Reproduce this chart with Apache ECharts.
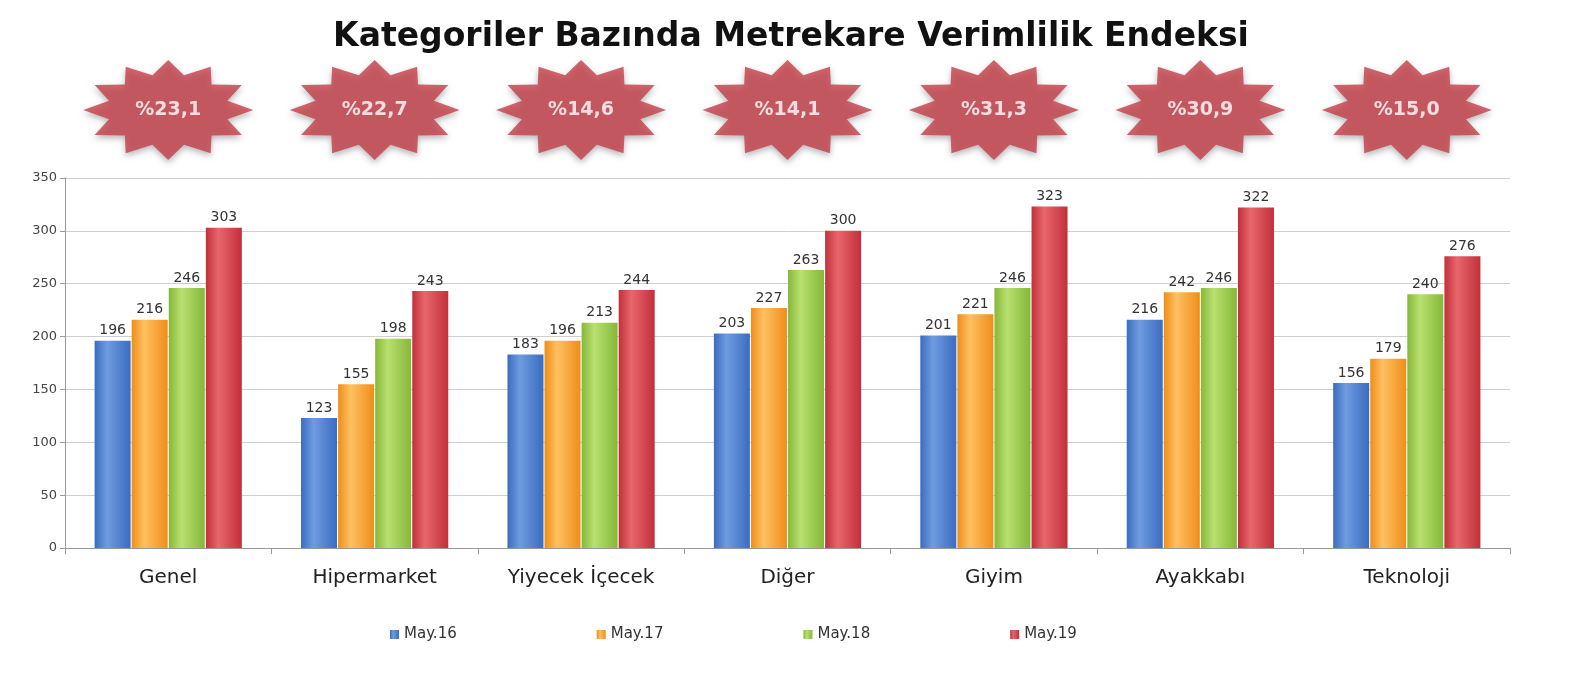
<!DOCTYPE html>
<html><head><meta charset="utf-8">
<script src="https://cdn.jsdelivr.net/npm/echarts@6/dist/echarts.min.js"></script>
<style>html,body{margin:0;background:#fff}#c{width:1582px;height:675px}</style>
</head><body><div id="c"></div>
<script>
var categories = ['Genel', 'Hipermarket', 'Yiyecek İçecek', 'Diğer', 'Giyim', 'Ayakkabı', 'Teknoloji'];
var may16 = [196, 123, 183, 203, 201, 216, 156];
var may17 = [216, 155, 196, 227, 221, 242, 179];
var may18 = [246, 198, 213, 263, 246, 246, 240];
var may19 = [303, 243, 244, 300, 323, 322, 276];
var growth = ['%23,1', '%22,7', '%14,6', '%14,1', '%31,3', '%30,9', '%15,0'];
var seriesNames = ['May.16', 'May.17', 'May.18', 'May.19'];

// badge shape: 12-spike star
var pts = [];
for (var i = 0; i < 24; i++) {
    var a = Math.PI * 2 * i / 24;
    var r = i % 2 === 0 ? 50 : 36;
    pts.push((50 + r * Math.cos(a)).toFixed(1) + ' ' + (50 + r * Math.sin(a)).toFixed(1));
}
var starPath = 'path://M' + pts.join(' L') + ' Z';

var colors = [['#6f9be0', '#3a6cc0'], ['#ffc060', '#ee8e1a'], ['#b8e070', '#86b838'], ['#e8666c', '#c2303a']];
function grad(c) {
    return new echarts.graphic.LinearGradient(0, 0, 1, 0, [
        {offset: 0, color: c[1]}, {offset: 0.35, color: c[0]}, {offset: 1, color: c[1]}
    ]);
}

var data = [may16, may17, may18, may19];
var series = data.map(function(d, i) {
    return {
        name: seriesNames[i], type: 'bar', data: d, barWidth: 36, barGap: '3%',
        itemStyle: {color: grad(colors[i])},
        label: {show: true, position: 'top', color: '#333', fontSize: 14, fontFamily: 'DejaVu Sans', distance: 3}
    };
});
series.push({
    type: 'scatter', xAxisIndex: 1, yAxisIndex: 1, data: growth.map(function() { return 1; }),
    symbol: starPath, symbolSize: [170, 100], silent: true,
    itemStyle: {color: '#c63f48', shadowColor: 'rgba(0,0,0,0.35)', shadowBlur: 6, shadowOffsetY: 3},
    label: {show: true, position: 'inside', color: '#fff', fontWeight: 'bold', fontSize: 19, fontFamily: 'DejaVu Sans',
        formatter: function(p) { return growth[p.dataIndex]; }}
});

var chart = echarts.init(document.getElementById('c'));
chart.setOption({
    animation: false,
    color: ['#3a6cc0', '#ee8e1a', '#86b838', '#c2303a'],
    title: {text: 'Kategoriler Bazında Metrekare Verimlilik Endeksi', left: 'center', top: 16,
        textStyle: {fontSize: 33, fontWeight: 'bold', color: '#111', fontFamily: 'DejaVu Sans'}},
    legend: {data: seriesNames, bottom: 28, left: 385, itemGap: 140, itemWidth: 9, itemHeight: 9, icon: 'rect',
        textStyle: {fontSize: 15, color: '#333', fontFamily: 'DejaVu Sans'}},
    grid: [{left: 65, right: 72, top: 178, bottom: 127},
           {left: 65, right: 72, top: 62, height: 96}],
    xAxis: [{type: 'category', data: categories, gridIndex: 0,
        axisLine: {lineStyle: {color: '#999'}}, axisTick: {show: true, length: 6, lineStyle: {color: '#999'}},
        axisLabel: {fontSize: 20, color: '#222', margin: 20, fontFamily: 'DejaVu Sans'}},
        {type: 'category', data: categories, gridIndex: 1, show: false}],
    yAxis: [{type: 'value', min: 0, max: 350, interval: 50, gridIndex: 0,
        axisLine: {show: true, lineStyle: {color: '#999'}}, axisTick: {show: true},
        splitLine: {lineStyle: {color: '#cfcfcf'}},
        axisLabel: {fontSize: 13, color: '#444', fontFamily: 'DejaVu Sans'}},
        {type: 'value', min: 0, max: 2, gridIndex: 1, show: false}],
    series: series
});
</script></body></html>
